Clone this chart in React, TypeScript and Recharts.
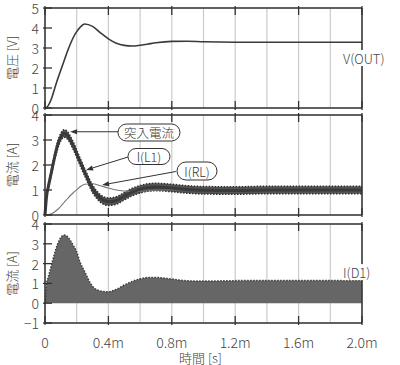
import React from "react";
import {
  ComposedChart,
  Line,
  Area,
  XAxis,
  YAxis,
  CartesianGrid,
  ReferenceDot,
  ReferenceLine,
} from "recharts";

const FONT = "'Noto Sans CJK JP', 'Noto Sans', sans-serif";
const INK = "#333";
const TXT = "#444";

// time axis in ms
const time = [0, 0.01, 0.02, 0.04, 0.06, 0.08, 0.1, 0.12, 0.14, 0.16, 0.18, 0.2, 0.22, 0.25, 0.3, 0.35, 0.4, 0.45, 0.5, 0.55, 0.6, 0.65, 0.7, 0.8, 0.9, 1.0, 1.2, 1.4, 1.6, 1.8, 2.0];
// V(OUT) [V]
const vOut = [0, 0.03, 0.12, 0.45, 0.95, 1.45, 1.9, 2.35, 2.8, 3.2, 3.55, 3.82, 4.02, 4.2, 4.08, 3.76, 3.46, 3.24, 3.13, 3.1, 3.14, 3.2, 3.26, 3.33, 3.34, 3.31, 3.29, 3.29, 3.29, 3.29, 3.29];
// I(L1) centre and ripple half width [A]
const iL1 = [0, 0.75, 1.1, 1.7, 2.3, 2.8, 3.12, 3.26, 3.2, 3.0, 2.75, 2.45, 2.15, 1.72, 1.05, 0.66, 0.53, 0.58, 0.75, 0.92, 1.03, 1.1, 1.12, 1.08, 1.02, 0.99, 0.98, 1.0, 1.0, 1.0, 1.0];
const iL1Ripple = [0, 0.02, 0.05, 0.1, 0.13, 0.15, 0.15, 0.15, 0.15, 0.15, 0.15, 0.15, 0.15, 0.15, 0.15, 0.15, 0.15, 0.15, 0.15, 0.15, 0.15, 0.15, 0.15, 0.15, 0.15, 0.15, 0.15, 0.15, 0.15, 0.15, 0.15];
// I(RL) [A]
const iRL = [0, 0, 0.01, 0.05, 0.12, 0.22, 0.35, 0.5, 0.64, 0.78, 0.9, 1.01, 1.12, 1.23, 1.25, 1.17, 1.08, 1.0, 0.96, 0.94, 0.95, 0.97, 0.99, 1.01, 1.01, 1.0, 1.0, 1.0, 1.0, 1.0, 1.0];
// I(D1) pulse envelope [A]
const iD1 = [0, 1.0, 1.3, 1.9, 2.5, 3.0, 3.32, 3.44, 3.38, 3.17, 2.9, 2.6, 2.1, 1.6, 0.85, 0.62, 0.58, 0.7, 0.92, 1.1, 1.23, 1.3, 1.3, 1.22, 1.13, 1.12, 1.14, 1.15, 1.15, 1.15, 1.15];

const xTicks = [0, 0.4, 0.8, 1.2, 1.6, 2.0];
const xTickLabels = ["0", "0.4m", "0.8m", "1.2m", "1.6m", "2.0m"];
const xGrid = [0, 0.2, 0.4, 0.6, 0.8, 1.0, 1.2, 1.4, 1.6, 1.8, 2.0];

const data = time.map((t, i) => ({
  t,
  vOut: vOut[i],
  iL1: iL1[i],
  iL1Band: [iL1[i] - iL1Ripple[i], iL1[i] + iL1Ripple[i]],
  iRL: iRL[i],
  iD1: iD1[i],
}));

const TICK = 9;

const fmtY = (v: number) => (v < 0 ? "\u2212" + Math.abs(v) : String(v));

const LeftTick = (p: any) => (
  <g>
    <line x1={p.x} y1={p.y} x2={p.x + TICK} y2={p.y} stroke={INK} strokeWidth={1.3} />
    <text x={p.x - 4} y={p.y} textAnchor="end" dominantBaseline="central" fontSize={14} fontWeight={300} fill={TXT} fontFamily={FONT}>
      {fmtY(p.payload.value)}
    </text>
  </g>
);

const RightTick = (p: any) =>
  Number.isInteger(p.payload.value) ? (
    <line x1={p.x - TICK} y1={p.y} x2={p.x} y2={p.y} stroke={INK} strokeWidth={1.3} />
  ) : (
    <g />
  );

const TopTick = (p: any) =>
  Math.abs((p.payload.value / 0.4) - Math.round(p.payload.value / 0.4)) < 1e-6 ? (
    <line x1={p.x} y1={p.y} x2={p.x} y2={p.y + TICK} stroke={INK} strokeWidth={1.3} />
  ) : (
    <g />
  );

const makeBottomTick = (showLabel: boolean) => (p: any) => (
  <g>
    <line x1={p.x} y1={p.y} x2={p.x} y2={p.y - TICK} stroke={INK} strokeWidth={1.3} />
    {showLabel && (
      <text x={p.x} y={p.y + 17} textAnchor="middle" dominantBaseline="central" fontSize={14} fontWeight={300} fill={TXT} fontFamily={FONT}>
        {xTickLabels[p.index]}
      </text>
    )}
  </g>
);

const yTitle = (text: string) => (props: any) => {
  const vb = props.viewBox || {};
  const cx = (vb.x ?? 0) + 11;
  const cy = (vb.y ?? 0) + (vb.height ?? 0) / 2;
  return (
    <text x={cx} y={cy} transform={`rotate(-90 ${cx} ${cy})`} textAnchor="middle" dominantBaseline="central" fontSize={13} fontWeight={300} fill={TXT} fontFamily={FONT}>
      {text}
    </text>
  );
};

const xTitle = (props: any) => {
  const vb = props.viewBox || {};
  return (
    <text x={(vb.x ?? 0) + (vb.width ?? 0) / 2 - 3} y={(vb.y ?? 0) + 34} textAnchor="middle" dominantBaseline="central" fontSize={13} fontWeight={300} fill={TXT} fontFamily={FONT}>
      時間 [s]
    </text>
  );
};

const pill = (text: string, w: number, h: number) => (p: any) => (
  <g>
    <rect x={p.cx - w / 2} y={p.cy - h / 2} width={w} height={h} rx={h / 2} fill="#fff" stroke={INK} strokeWidth={1} />
    <text x={p.cx} y={p.cy} textAnchor="middle" dominantBaseline="central" fontSize={12.5} fontWeight={300} fill={INK} fontFamily={FONT}>
      {text}
    </text>
  </g>
);

const sideLabel = (text: string, w: number) => (p: any) => (
  <g>
    <rect x={p.cx - 19} y={p.cy - 8} width={w} height={16} fill="#fff" />
    <text x={p.cx - 19} y={p.cy} dominantBaseline="central" fontSize={13} fontWeight={300} fill={TXT} fontFamily={FONT}>
      {text}
    </text>
  </g>
);

const arrow = (p: any) => {
  const { x1, y1, x2, y2 } = p;
  const a = Math.atan2(y2 - y1, x2 - x1);
  const L = 7;
  const W = 2.6;
  const bx = x2 - L * Math.cos(a);
  const by = y2 - L * Math.sin(a);
  const pts = `${x2},${y2} ${bx + W * Math.sin(a)},${by - W * Math.cos(a)} ${bx - W * Math.sin(a)},${by + W * Math.cos(a)}`;
  return (
    <g>
      <line x1={x1} y1={y1} x2={bx} y2={by} stroke={INK} strokeWidth={1} />
      <polygon points={pts} fill={INK} />
    </g>
  );
};

interface PanelProps {
  top: number;
  height: number;
  topAxisH: number;
  bottomAxisH: number;
  yDomain: [number, number];
  yTicks: number[];
  yGrid: number[];
  title: string;
  showX: boolean;
  children: React.ReactNode;
}

const Panel = ({ top, height, topAxisH, bottomAxisH, yDomain, yTicks, yGrid, title, showX, children }: PanelProps) => (
  <div style={{ position: "absolute", left: 0, top }}>
    <ComposedChart width={400} height={height} data={data} margin={{ top: 0, right: 8, bottom: 0, left: 0 }}>
      <CartesianGrid xAxisId="t" yAxisId="r" stroke="#cbcbcb" strokeWidth={1.2} horizontal={false} />
      <CartesianGrid xAxisId="t" yAxisId="r" stroke="#d6d6d6" strokeWidth={1} vertical={false} />
      <XAxis
        xAxisId="t"
        orientation="top"
        type="number"
        dataKey="t"
        domain={[0, 2]}
        ticks={xGrid}
        interval={0}
        height={topAxisH}
        tickSize={0}
        tickLine={false}
        axisLine={{ stroke: INK, strokeWidth: 1.5 }}
        tick={TopTick}
      />
      <XAxis
        xAxisId="b"
        orientation="bottom"
        type="number"
        dataKey="t"
        domain={[0, 2]}
        ticks={xTicks}
        interval={0}
        height={bottomAxisH}
        tickSize={0}
        tickLine={false}
        axisLine={{ stroke: INK, strokeWidth: 1.5 }}
        tick={makeBottomTick(showX)}
        label={showX ? xTitle : undefined}
      />
      <YAxis
        yAxisId="l"
        type="number"
        domain={yDomain}
        ticks={yTicks}
        interval={0}
        width={45}
        tickSize={0}
        tickLine={false}
        axisLine={{ stroke: INK, strokeWidth: 1.5 }}
        tick={LeftTick}
        label={yTitle(title)}
      />
      <YAxis
        yAxisId="r"
        orientation="right"
        type="number"
        domain={yDomain}
        ticks={yGrid}
        interval={0}
        width={30}
        tickSize={0}
        tickLine={false}
        axisLine={{ stroke: INK, strokeWidth: 1.5 }}
        tick={RightTick}
      />
      {children}
    </ComposedChart>
  </div>
);

export default function App() {
  return (
    <div style={{ position: "absolute", left: 0, top: 0, width: 400, height: 365, background: "#fff", fontFamily: FONT }}>
      <Panel top={0} height={125} topAxisH={8} bottomAxisH={17} yDomain={[0, 5]} yTicks={[0, 1, 2, 3, 4, 5]} yGrid={[0, 0.5, 1, 1.5, 2, 2.5, 3, 3.5, 4, 4.5, 5]} title="電圧 [V]" showX={false}>
        <Line xAxisId="b" yAxisId="l" type="monotone" dataKey="vOut" stroke="#3a3a3a" strokeWidth={1.6} dot={false} isAnimationActive={false} />
        <ReferenceDot xAxisId="b" yAxisId="l" x={2.0} y={2.5} shape={sideLabel("V(OUT)", 52)} />
      </Panel>
      <Panel top={100} height={130} topAxisH={15} bottomAxisH={15} yDomain={[0, 4]} yTicks={[0, 1, 2, 3, 4]} yGrid={[0, 0.5, 1, 1.5, 2, 2.5, 3, 3.5, 4]} title="電流 [A]" showX={false}>
        <Line xAxisId="b" yAxisId="l" type="monotone" dataKey="iRL" stroke="#777" strokeWidth={1.1} dot={false} isAnimationActive={false} />
        <Area xAxisId="b" yAxisId="l" type="monotone" dataKey="iL1Band" fill="#555" fillOpacity={1} stroke="#2e2e2e" strokeWidth={1.5} strokeDasharray="1.5 1.5" isAnimationActive={false} />
        <Line xAxisId="b" yAxisId="l" type="monotone" dataKey="iL1" stroke="#3a3a3a" strokeWidth={3} dot={false} isAnimationActive={false} />
        <ReferenceLine xAxisId="b" yAxisId="l" segment={[{ x: 0.462, y: 3.33 }, { x: 0.158, y: 3.33 }]} shape={arrow} />
        <ReferenceLine xAxisId="b" yAxisId="l" segment={[{ x: 0.524, y: 2.32 }, { x: 0.259, y: 1.8 }]} shape={arrow} />
        <ReferenceLine xAxisId="b" yAxisId="l" segment={[{ x: 0.826, y: 1.74 }, { x: 0.36, y: 1.2 }]} shape={arrow} />
        <ReferenceDot xAxisId="b" yAxisId="l" x={0.656} y={3.3} shape={pill("突入電流", 62, 17)} />
        <ReferenceDot xAxisId="b" yAxisId="l" x={0.656} y={2.34} shape={pill("I(L1)", 42, 16)} />
        <ReferenceDot xAxisId="b" yAxisId="l" x={0.959} y={1.76} shape={pill("I(RL)", 40, 18)} />
      </Panel>
      <Panel top={210} height={155} topAxisH={14} bottomAxisH={42} yDomain={[-1, 4]} yTicks={[-1, 0, 1, 2, 3, 4]} yGrid={[-1, -0.5, 0, 0.5, 1, 1.5, 2, 2.5, 3, 3.5, 4]} title="電流 [A]" showX={true}>
        <Area xAxisId="b" yAxisId="l" type="monotone" dataKey="iD1" baseValue={0} fill="#666" fillOpacity={1} stroke="#3c3c3c" strokeWidth={1.5} strokeDasharray="1.5 1.5" isAnimationActive={false} />
        <ReferenceDot xAxisId="b" yAxisId="l" x={2.0} y={1.57} shape={sideLabel("I(D1)", 34)} />
      </Panel>
    </div>
  );
}
